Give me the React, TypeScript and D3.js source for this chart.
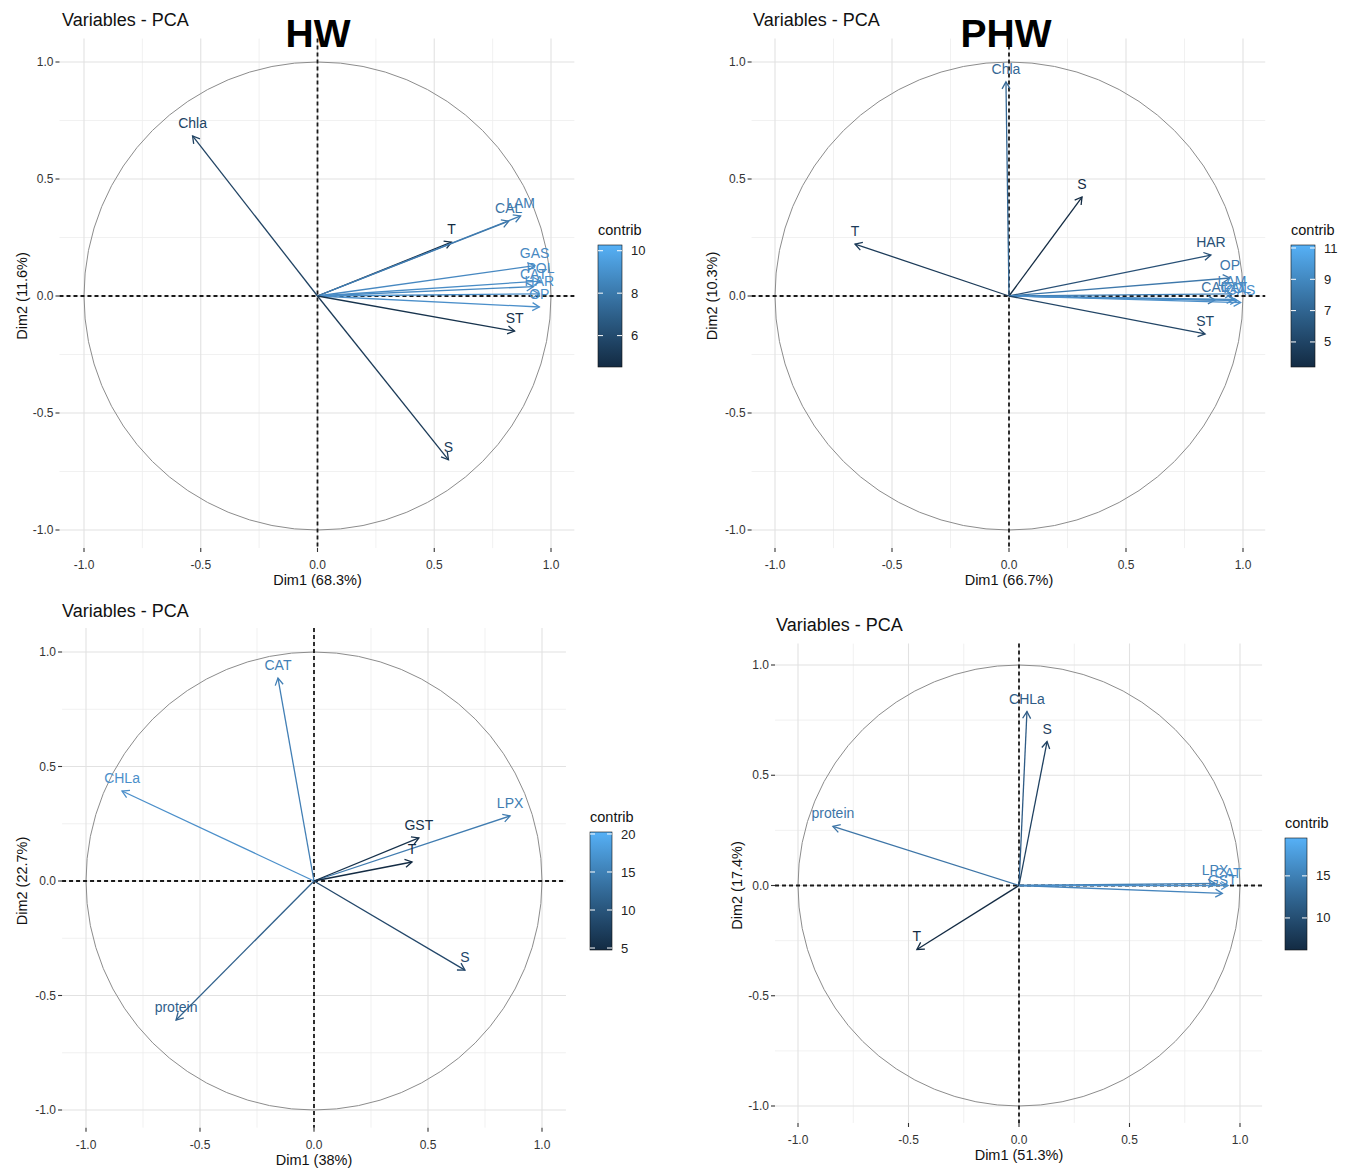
import React from "react";
import * as d3 from "d3";

// ---------- DATA ----------
// Panel HW
const hwNames = ["Chla", "T", "CAL", "LAM", "GAS", "POL", "CAT", "HAR", "OP", "ST", "S"];
const hwDim1 = [-0.535, 0.574, 0.819, 0.87, 0.93, 0.955, 0.925, 0.95, 0.95, 0.844, 0.561];
const hwDim2 = [0.684, 0.23, 0.32, 0.342, 0.13, 0.064, 0.04, 0.009, -0.047, -0.15, -0.7];
const hwContrib = [6.0, 4.52, 8.8, 9.3, 9.9, 10.1, 10.0, 10.2, 10.27, 5.0, 5.5];
const hwLegendTicks = [6, 8, 10];

// Panel PHW
const phwNames = ["Chla", "S", "T", "HAR", "OP", "LAM", "CAL", "CAT", "POL", "GAS", "ST"];
const phwDim1 = [-0.013, 0.312, -0.658, 0.863, 0.944, 0.953, 0.88, 0.96, 0.975, 0.99, 0.838];
const phwDim2 = [0.915, 0.423, 0.222, 0.175, 0.077, 0.009, -0.017, -0.015, -0.02, -0.028, -0.162];
const phwContrib = [8.3, 3.4, 4.8, 6.5, 9.5, 10.3, 9.0, 10.8, 11.0, 11.19, 5.6];
const phwLegendTicks = [5, 7, 9, 11];

// Panel 3
const p3Names = ["CAT", "CHLa", "LPX", "GST", "T", "S", "protein"];
const p3Dim1 = [-0.158, -0.842, 0.86, 0.46, 0.43, 0.662, -0.605];
const p3Dim2 = [0.886, 0.393, 0.284, 0.188, 0.083, -0.389, -0.607];
const p3Contrib = [18.0, 20.26, 17.5, 5.8, 4.74, 9.5, 13.5];
const p3LegendTicks = [5, 10, 15, 20];

// Panel 4
const p4Names = ["CHLa", "S", "protein", "T", "LPX", "CAT", "GST"];
const p4Dim1 = [0.036, 0.127, -0.842, -0.462, 0.887, 0.946, 0.92];
const p4Dim2 = [0.789, 0.653, 0.268, -0.29, 0.01, 0.0, -0.036];
const p4Contrib = [13.1, 9.4, 16.3, 6.19, 17.6, 19.5, 18.3];
const p4LegendTicks = [10, 15];

const axisTicks = [-1, -0.5, 0, 0.5, 1];
const axisTickLabels = ["-1.0", "-0.5", "0.0", "0.5", "1.0"];
const minorTicks = [-0.75, -0.25, 0.25, 0.75];

const dim1Titles = ["Dim1 (68.3%)", "Dim1 (66.7%)", "Dim1 (38%)", "Dim1 (51.3%)"];
const dim2Titles = ["Dim2 (11.6%)", "Dim2 (10.3%)", "Dim2 (22.7%)", "Dim2 (17.4%)"];
const bigLabels = ["HW", "PHW", "", ""];

// ---------- LAYOUT ----------
const layouts = [
  { xm1: 84, xp1: 551, ym1: 530, yp1: 62, xExt: [-1.105, 1.1], yExt: [-1.077, 1.1], titleX: 62, titleY: 26, yTitleX: 22, leg: { x: 598, y: 245, w: 24, h: 122 }, bigX: 318, bigY: 47 },
  { xm1: 775, xp1: 1243, ym1: 530, yp1: 62, xExt: [-1.1, 1.095], yExt: [-1.077, 1.1], titleX: 753, titleY: 26, yTitleX: 712, leg: { x: 1291, y: 245, w: 24, h: 122 }, bigX: 1006, bigY: 47 },
  { xm1: 86, xp1: 542, ym1: 1110, yp1: 652, xExt: [-1.105, 1.105], yExt: [-1.077, 1.105], titleX: 62, titleY: 617, yTitleX: 22, leg: { x: 590, y: 832, w: 22, h: 118 }, bigX: 0, bigY: 0 },
  { xm1: 798, xp1: 1240, ym1: 1106, yp1: 665, xExt: [-1.104, 1.1], yExt: [-1.077, 1.097], titleX: 776, titleY: 631, yTitleX: 737, leg: { x: 1285, y: 838, w: 22, h: 112 }, bigX: 0, bigY: 0 },
];

const panelData = [
  { names: hwNames, d1: hwDim1, d2: hwDim2, c: hwContrib, lt: hwLegendTicks },
  { names: phwNames, d1: phwDim1, d2: phwDim2, c: phwContrib, lt: phwLegendTicks },
  { names: p3Names, d1: p3Dim1, d2: p3Dim2, c: p3Contrib, lt: p3LegendTicks },
  { names: p4Names, d1: p4Dim1, d2: p4Dim2, c: p4Contrib, lt: p4LegendTicks },
];

const FONT = "'Liberation Sans', Arial, sans-serif";
const LOW = "#132B43";
const HIGH = "#56B1F7";
const MARK_HIGH = "#4b8fca";

function Panel({ idx }: { idx: number }) {
  const L = layouts[idx];
  const D = panelData[idx];
  const xs = d3.scaleLinear().domain([-1, 1]).range([L.xm1, L.xp1]);
  const ys = d3.scaleLinear().domain([-1, 1]).range([L.ym1, L.yp1]);
  const left = xs(L.xExt[0]);
  const right = xs(L.xExt[1]);
  const top = ys(L.yExt[1]);
  const bottom = ys(L.yExt[0]);
  const ext = d3.extent(D.c) as [number, number];
  const color = d3
    .scaleLinear<string>()
    .domain(ext)
    .range([LOW, MARK_HIGH])
    .interpolate(d3.interpolateLab);
  const legY = d3.scaleLinear().domain(ext).range([L.leg.y + L.leg.h, L.leg.y]);
  const gradId = `grad${idx}`;
  const stops = d3.range(0, 1.0001, 0.1);

  const vars = D.names.map((n, i) => ({ name: n, x: D.d1[i], y: D.d2[i], c: D.c[i] }));
  const ox = xs(0);
  const oy = ys(0);
  const headLen = 8;

  return (
    <g>
      <defs>
        <linearGradient id={gradId} x1="0" y1="1" x2="0" y2="0">
          {stops.map((s) => (
            <stop key={s} offset={s} stopColor={d3.interpolateLab(LOW, HIGH)(s)} />
          ))}
        </linearGradient>
      </defs>
      {/* grid */}
      {minorTicks.map((t) => (
        <g key={"m" + t}>
          <line x1={xs(t)} x2={xs(t)} y1={top} y2={bottom} stroke="#eeeeee" strokeWidth={0.8} />
          <line x1={left} x2={right} y1={ys(t)} y2={ys(t)} stroke="#eeeeee" strokeWidth={0.8} />
        </g>
      ))}
      {axisTicks.map((t) => (
        <g key={"M" + t}>
          <line x1={xs(t)} x2={xs(t)} y1={top} y2={bottom} stroke="#e2e2e2" strokeWidth={1.1} />
          <line x1={left} x2={right} y1={ys(t)} y2={ys(t)} stroke="#e2e2e2" strokeWidth={1.1} />
        </g>
      ))}
      {/* circle */}
      <ellipse cx={ox} cy={oy} rx={xs(1) - ox} ry={oy - ys(1)} fill="none" stroke="#8c8c8c" strokeWidth={1} />
      {/* dashed axes */}
      <line x1={left} x2={right} y1={oy} y2={oy} stroke="#1a1a1a" strokeWidth={1.8} strokeDasharray="4,3" />
      <line x1={ox} x2={ox} y1={top} y2={bottom} stroke="#1a1a1a" strokeWidth={1.8} strokeDasharray="4,3" />
      {/* arrows */}
      {vars.map((v) => {
        const tx = xs(v.x);
        const ty = ys(v.y);
        const ang = Math.atan2(ty - oy, tx - ox);
        const a1 = ang + Math.PI - Math.PI / 6;
        const a2 = ang + Math.PI + Math.PI / 6;
        const col = color(v.c);
        return (
          <g key={"a" + v.name}>
            <line x1={ox} y1={oy} x2={tx} y2={ty} stroke={col} strokeWidth={1.3} />
            <path
              d={`M${tx + headLen * Math.cos(a1)},${ty + headLen * Math.sin(a1)}L${tx},${ty}L${tx + headLen * Math.cos(a2)},${ty + headLen * Math.sin(a2)}`}
              fill="none"
              stroke={col}
              strokeWidth={1.3}
            />
          </g>
        );
      })}
      {vars.map((v) => (
        <text key={"t" + v.name} x={xs(v.x)} y={ys(v.y) - 8} textAnchor="middle" fontSize={14} fontFamily={FONT} fill={color(v.c)}>
          {v.name}
        </text>
      ))}
      {/* axes ticks */}
      {axisTicks.map((t, i) => (
        <g key={"xt" + t}>
          <line x1={xs(t)} x2={xs(t)} y1={bottom} y2={bottom + 4} stroke="#333" strokeWidth={1.1} />
          <text x={xs(t)} y={bottom + 21} textAnchor="middle" fontSize={12} fontFamily={FONT} fill="#333">
            {axisTickLabels[i]}
          </text>
          <line x1={left - 4} x2={left} y1={ys(t)} y2={ys(t)} stroke="#333" strokeWidth={1.1} />
          <text x={left - 6} y={ys(t)} dy="0.35em" textAnchor="end" fontSize={12} fontFamily={FONT} fill="#333">
            {axisTickLabels[i]}
          </text>
        </g>
      ))}
      <text x={ox} y={bottom + 37} textAnchor="middle" fontSize={14.5} fontFamily={FONT} fill="#111">
        {dim1Titles[idx]}
      </text>
      <text
        transform={`translate(${L.yTitleX},${oy}) rotate(-90)`}
        textAnchor="middle"
        dy="0.35em"
        fontSize={14.5}
        fontFamily={FONT}
        fill="#111"
      >
        {dim2Titles[idx]}
      </text>
      <text x={L.titleX} y={L.titleY} fontSize={18} fontFamily={FONT} fill="#111">
        Variables - PCA
      </text>
      {bigLabels[idx] && (
        <text x={L.bigX} y={L.bigY} textAnchor="middle" fontSize={39} fontWeight="bold" fontFamily={FONT} fill="#000">
          {bigLabels[idx]}
        </text>
      )}
      {/* legend */}
      <text x={L.leg.x} y={L.leg.y - 10} fontSize={14.5} fontFamily={FONT} fill="#111">
        contrib
      </text>
      <rect x={L.leg.x} y={L.leg.y} width={L.leg.w} height={L.leg.h} fill={`url(#${gradId})`} stroke="#111" strokeWidth={0.6} />
      {D.lt.map((t) => (
        <g key={"lt" + t}>
          <line x1={L.leg.x} x2={L.leg.x + 5} y1={legY(t)} y2={legY(t)} stroke="#fff" strokeWidth={1} />
          <line x1={L.leg.x + L.leg.w - 5} x2={L.leg.x + L.leg.w} y1={legY(t)} y2={legY(t)} stroke="#fff" strokeWidth={1} />
          <text x={L.leg.x + L.leg.w + 9} y={legY(t)} dy="0.35em" fontSize={13} fontFamily={FONT} fill="#222">
            {t}
          </text>
        </g>
      ))}
    </g>
  );
}

export default function App() {
  return (
    <svg
      width={1349}
      height={1169}
      style={{ position: "absolute", left: 0, top: 0, background: "#fff" }}
      xmlns="http://www.w3.org/2000/svg"
    >
      <rect x={0} y={0} width={1349} height={1169} fill="#fff" />
      {layouts.map((_, i) => (
        <Panel key={i} idx={i} />
      ))}
    </svg>
  );
}
